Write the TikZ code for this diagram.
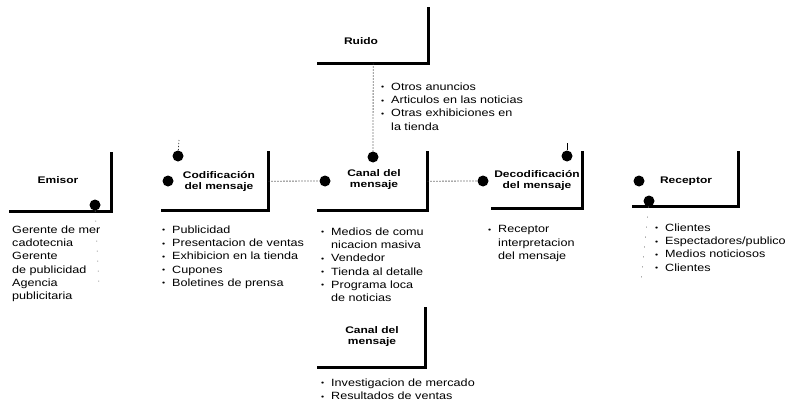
\documentclass[tikz,border=0pt]{standalone}
\usepackage{fontspec}
\usepackage{graphicx}
\setmainfont{Liberation Sans}
\newfontfamily\listfont[FakeStretch=1.2]{Liberation Sans}
\newfontfamily\titlefont[FakeStretch=1.25]{Liberation Sans}
\newcommand\lbul{\makebox[10pt][l]{\raisebox{0.6pt}{\scalebox{0.7}{•}}}}
\newcommand\lind{\hspace*{10pt}}
\begin{document}
\begin{tikzpicture}[x=1pt,y=-1pt,
  boxarea/.style={rectangle, draw=none, inner sep=0pt, anchor=north west},
  frame/.style={line width=2.6pt, line cap=rect, line join=miter},
  title/.style={font=\titlefont\bfseries\fontsize{9.6}{11}\selectfont, align=center, inner sep=0pt},
  lst/.style={font=\listfont\fontsize{10.5}{13.3}\selectfont, align=left, anchor=north west, inner sep=0pt},
  dot/.style={circle, fill=black, minimum size=11pt, inner sep=0pt},
  conn/.style={line width=0.8pt, dash pattern=on 1.2pt off 1.8pt, black!80},
  faint/.style={line width=0.7pt, dash pattern=on 1pt off 9pt, black!50}]
\useasboundingbox (0,0) rectangle (795,404);

% boxes
\node[boxarea, minimum width=101pt, minimum height=58pt] (emisor) at (10,153) {};
\node[boxarea, minimum width=106pt, minimum height=58pt] (codif) at (162,152) {};
\node[boxarea, minimum width=110pt, minimum height=55pt] (ruido) at (318,8) {};
\node[boxarea, minimum width=109pt, minimum height=58pt] (canal) at (318,152) {};
\node[boxarea, minimum width=90pt, minimum height=56pt] (decod) at (492,152) {};
\node[boxarea, minimum width=105pt, minimum height=54pt] (recep) at (633,152) {};
\node[boxarea, minimum width=107pt, minimum height=59pt] (canaldos) at (318,308) {};

\foreach \b in {emisor,codif,ruido,canal,decod,recep,canaldos}
  \draw[frame] (\b.north east) -- (\b.south east) -- (\b.south west);

% titles
\node[title] (emisorT) at (58,180) {Emisor};
\node[title] (codifT) at (219,181) {Codificación\\del mensaje};
\node[title] (ruidoT) at (361,41) {Ruido};
\node[title] (canalT) at (374,180) {Canal del\\mensaje};
\node[title] (decodT) at (537,180) {Decodificación\\del mensaje};
\node[title] (recepT) at (686,181) {Receptor};
\node[title] (canaldosT) at (372,337) {Canal del\\mensaje};

% dots
\node[dot] (emisorD) at (95,205) {};
\node[dot] (codifDt) at (178,156) {};
\node[dot] (codifDl) at (168,181) {};
\node[dot] (canalDt) at (373,157) {};
\node[dot] (canalDl) at (325,181) {};
\node[dot] (decodDt) at (567,156) {};
\node[dot] (decodDl) at (483,181) {};
\node[dot] (recepDl) at (639,181) {};
\node[dot] (recepDb) at (649,201) {};

% connectors
\draw[conn] (codif.east) -- (canalDl);
\draw[conn] (canal.east) -- (decodDl);
\draw[conn] (ruido.south) -- (canalDt);
\coordinate (codiftick) at (179,140);
\draw[conn] (codiftick) -- (codifDt);
\coordinate (decodtick) at (567,143);
\draw[line width=0.8pt] (decodtick) -- (decodDt);
\coordinate (emisorend) at (99,288);
\draw[faint] (emisorD) -- (emisorend);
\coordinate (recepend) at (641,282);
\draw[faint] (recepDb) -- (recepend);

% lists
\node[lst] (emisorL) at (12,225.5) {Gerente de mer\\cadotecnia\\Gerente\\de publicidad\\Agencia\\publicitaria};
\node[lst] (codifL) at (162,225.5) {\lbul Publicidad\\\lbul Presentacion de ventas\\\lbul Exhibicion en la tienda\\\lbul Cupones\\\lbul Boletines de prensa};
\node[lst] (ruidoL) at (381,82.5) {\lbul Otros anuncios\\\lbul Articulos en las noticias\\\lbul Otras exhibiciones en\\\lind la tienda};
\node[lst] (canalL) at (321,227.5) {\lbul Medios de comu\\\lind nicacion masiva\\\lbul Vendedor\\\lbul Tienda al detalle\\\lbul Programa loca\\\lind de noticias};
\node[lst] (decodL) at (488,225.5) {\lbul Receptor\\\lind interpretacion\\\lind del mensaje};
\node[lst] (recepL) at (655,223.5) {\lbul Clientes\\\lbul Espectadores/publico\\\lbul Medios noticiosos\\\lbul Clientes};
\node[lst] (canaldosL) at (321,378.5) {\lbul Investigacion de mercado\\\lbul Resultados de ventas};
\end{tikzpicture}
\end{document}
